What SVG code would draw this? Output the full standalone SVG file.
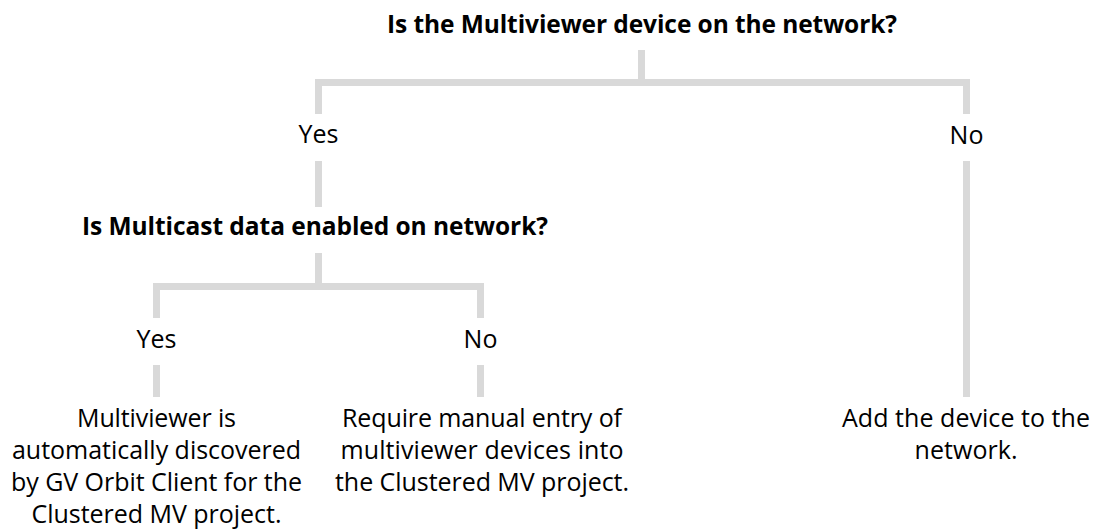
<svg xmlns="http://www.w3.org/2000/svg" width="1096" height="531" viewBox="0 0 1096 531">
<style>
.c{fill:none;stroke:#d9d9d9;stroke-width:7;stroke-linejoin:miter;stroke-linecap:butt}
.q{font-family:"Open Sans","Liberation Sans",sans-serif;font-weight:bold;font-size:24.5px;fill:#000;text-anchor:middle}
.t{font-family:"Open Sans","Liberation Sans",sans-serif;font-size:25px;fill:#000;text-anchor:middle}
</style>
<rect width="1096" height="531" fill="#fff"/>
<g id="connectors">
<path class="c" d="M641.5 50V82.5"/>
<path class="c" d="M318.5 114V82.5H966.5V114"/>
<path class="c" d="M318.5 161V207"/>
<path class="c" d="M966.5 161V397"/>
<path class="c" d="M318.5 253V286.5"/>
<path class="c" d="M156.5 318V286.5H480.5V318"/>
<path class="c" d="M156.5 365V397"/>
<path class="c" d="M480.5 365V397"/>
</g>
<g id="q1"><text class="q" x="642" y="33" textLength="510">Is the Multiviewer device on the network?</text></g>
<g id="yes1"><text class="t" x="318.5" y="143">Yes</text></g>
<g id="no1"><text class="t" x="966.5" y="144">No</text></g>
<g id="q2"><text class="q" x="315" y="235" textLength="466">Is Multicast data enabled on network?</text></g>
<g id="yes2"><text class="t" x="156.5" y="348">Yes</text></g>
<g id="no2"><text class="t" x="480.5" y="348">No</text></g>
<g id="r1">
<text class="t" x="156.5" y="427" textLength="159">Multiviewer is</text>
<text class="t" x="156.5" y="459" textLength="289">automatically discovered</text>
<text class="t" x="156.5" y="491" textLength="291">by GV Orbit Client for the</text>
<text class="t" x="156.5" y="523" textLength="250">Clustered MV project.</text>
</g>
<g id="r2">
<text class="t" x="482" y="427" textLength="280">Require manual entry of</text>
<text class="t" x="482" y="459" textLength="283">multiviewer devices into</text>
<text class="t" x="482" y="491" textLength="294">the Clustered MV project.</text>
</g>
<g id="r3">
<text class="t" x="966" y="427" textLength="248">Add the device to the</text>
<text class="t" x="966" y="459" textLength="103">network.</text>
</g>
</svg>
